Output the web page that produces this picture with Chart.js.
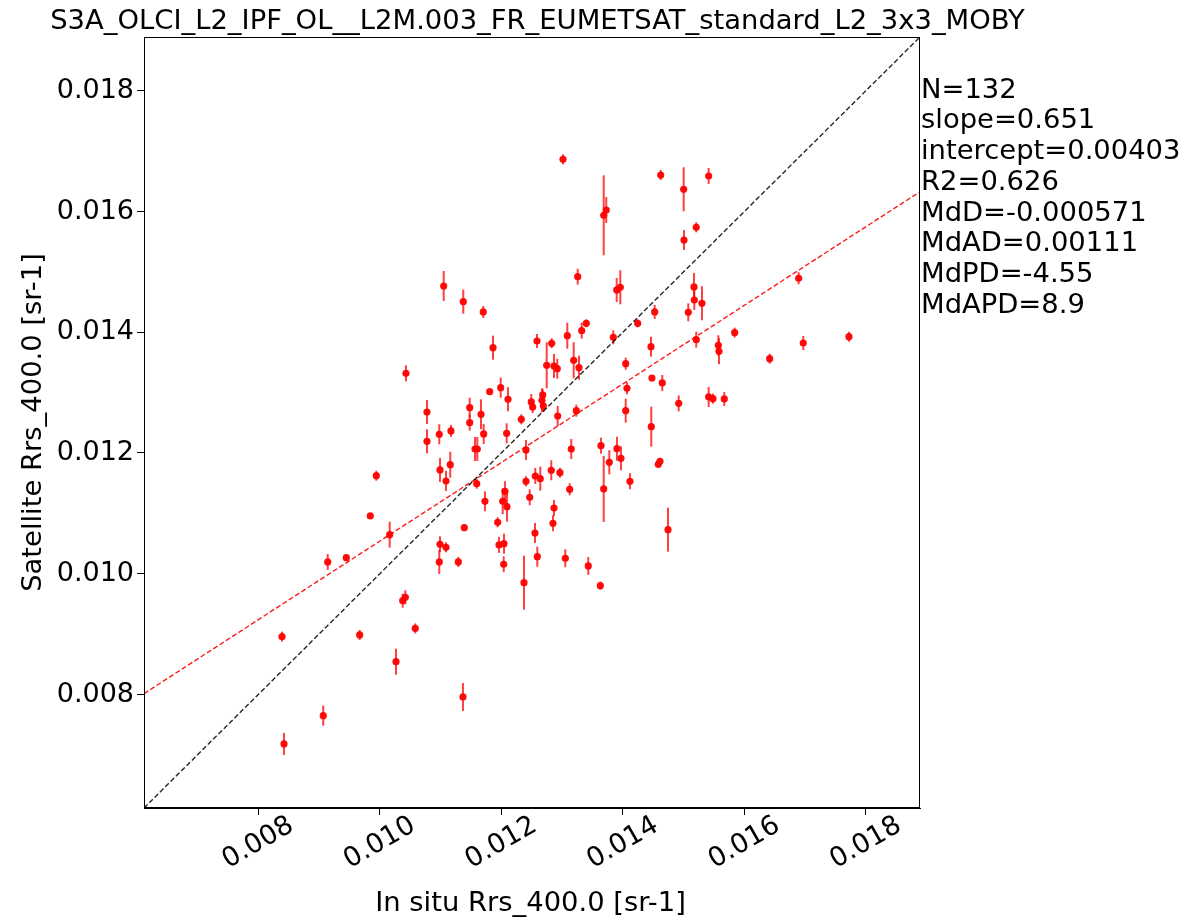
<!DOCTYPE html>
<html>
<head>
<meta charset="utf-8">
<title>S3A OLCI MOBY Rrs_400</title>
<script src="https://cdn.jsdelivr.net/npm/chart.js@4.4.1/dist/chart.umd.min.js"></script>
<style>
  html, body { margin: 0; padding: 0; background: #fff; }
  canvas { display: block; }
</style>
</head>
<body>
<canvas id="myChart" width="1189" height="919"></canvas>
<script>
// data
const title = 'S3A_OLCI_L2_IPF_OL__L2M.003_FR_EUMETSAT_standard_L2_3x3_MOBY';
const xLabel = 'In situ Rrs_400.0 [sr-1]';
const yLabel = 'Satellite Rrs_400.0 [sr-1]';
const axisMin = 0.00612;
const axisMax = 0.01889;
const tickValues = [0.008, 0.010, 0.012, 0.014, 0.016, 0.018];
const slope = 0.651;
const intercept = 0.00403;
const statLines = ['N=132', 'slope=0.651', 'intercept=0.00403', 'R2=0.626',
    'MdD=-0.000571', 'MdAD=0.00111', 'MdPD=-4.55', 'MdAPD=8.9'];

const insituX = [
    0.008424, 0.008391, 0.009070, 0.009143, 0.009449, 0.009669, 0.009844, 0.009943, 0.010163, 0.010267,
    0.010377, 0.010420, 0.010584, 0.011369, 0.010431, 0.011052, 0.011374, 0.011703, 0.011863, 0.012587,
    0.012829, 0.012747, 0.012867, 0.012921, 0.011809, 0.011990, 0.012110, 0.010777, 0.011480, 0.011480,
    0.011666, 0.012493, 0.012516, 0.012669, 0.012681, 0.012691, 0.012329, 0.012928, 0.010777, 0.010979,
    0.011172, 0.011710, 0.012088, 0.011567, 0.011605, 0.012406, 0.010991, 0.011160, 0.011090, 0.011595,
    0.012406, 0.012559, 0.012641, 0.012822, 0.012965, 0.011731, 0.012060, 0.012023, 0.012093, 0.012467,
    0.012867, 0.012850, 0.011391, 0.011940, 0.012554, 0.010991, 0.011090, 0.011962, 0.012044, 0.010979,
    0.011292, 0.012039, 0.012592, 0.012373, 0.013015, 0.013685, 0.013727, 0.014623, 0.015001, 0.015412,
    0.015208, 0.015006, 0.013257, 0.013899, 0.013958, 0.014524, 0.014244, 0.013398, 0.015171, 0.015176,
    0.015302, 0.015077, 0.013323, 0.013086, 0.013843, 0.013191, 0.013278, 0.014463, 0.014047, 0.015208,
    0.015571, 0.015582, 0.014479, 0.014649, 0.014068, 0.014919, 0.015412, 0.015483, 0.013234, 0.014047,
    0.014468, 0.013151, 0.013640, 0.013903, 0.013777, 0.013969, 0.014583, 0.014611, 0.013125, 0.013685,
    0.014117, 0.014743, 0.013053, 0.013431, 0.013629, 0.016893, 0.015840, 0.016416, 0.016969, 0.017721,
    0.015669
];
const satelliteY = [
    0.007181, 0.008958, 0.007649, 0.010195, 0.010266, 0.008986, 0.010957, 0.011624, 0.010647, 0.008544,
    0.009554, 0.009610, 0.009094, 0.007959, 0.013320, 0.014766, 0.014506, 0.014336, 0.013744, 0.013855,
    0.013817, 0.013453, 0.013441, 0.013396, 0.013015, 0.013082, 0.012890, 0.012679, 0.012750, 0.012502,
    0.012641, 0.012845, 0.012762, 0.012873, 0.012961, 0.012779, 0.012558, 0.012613, 0.012194, 0.012310,
    0.012365, 0.012315, 0.012326, 0.012066, 0.012066, 0.012050, 0.011719, 0.011806, 0.011536, 0.011492,
    0.011532, 0.011619, 0.011575, 0.011714, 0.011674, 0.011200, 0.011366, 0.011200, 0.011111, 0.011266,
    0.011089, 0.010836, 0.010763, 0.010852, 0.010675, 0.010488, 0.010438, 0.010477, 0.010498, 0.010195,
    0.010195, 0.010157, 0.010283, 0.009852, 0.016864, 0.015937, 0.016025, 0.016604, 0.016368, 0.016588,
    0.015738, 0.015528, 0.014920, 0.014700, 0.014745, 0.014336, 0.014148, 0.014148, 0.014750, 0.014534,
    0.014480, 0.014330, 0.014026, 0.013943, 0.013916, 0.013536, 0.013413, 0.013761, 0.013479, 0.013877,
    0.013784, 0.013685, 0.013242, 0.013160, 0.013072, 0.012823, 0.012928, 0.012900, 0.012701, 0.012701,
    0.012436, 0.012066, 0.012121, 0.012071, 0.011846, 0.011912, 0.011813, 0.011863, 0.011399, 0.011404,
    0.011532, 0.010730, 0.010256, 0.010129, 0.009803, 0.014894, 0.013993, 0.013562, 0.013822, 0.013926,
    0.012895
];
const satelliteErr = [
    0.000182, 0.000083, 0.000166, 0.000132, 0.000050, 0.000083, 0.000050, 0.000083, 0.000215, 0.000215,
    0.000116, 0.000116, 0.000083, 0.000232, 0.000132, 0.000248, 0.000199, 0.000100, 0.000199, 0.000116,
    0.000083, 0.000381, 0.000199, 0.000166, 0.000033, 0.000166, 0.000199, 0.000199, 0.000166, 0.000132,
    0.000248, 0.000132, 0.000100, 0.000199, 0.000100, 0.000100, 0.000083, 0.000166, 0.000199, 0.000166,
    0.000100, 0.000166, 0.000166, 0.000199, 0.000199, 0.000166, 0.000199, 0.000215, 0.000166, 0.000083,
    0.000083, 0.000132, 0.000199, 0.000166, 0.000083, 0.000166, 0.000166, 0.000215, 0.000248, 0.000132,
    0.000132, 0.000132, 0.000050, 0.000083, 0.000166, 0.000132, 0.000083, 0.000132, 0.000166, 0.000199,
    0.000083, 0.000132, 0.000166, 0.000447, 0.000083, 0.000662, 0.000215, 0.000083, 0.000364, 0.000132,
    0.000083, 0.000166, 0.000132, 0.000199, 0.000282, 0.000116, 0.000066, 0.000066, 0.000232, 0.000166,
    0.000282, 0.000149, 0.000132, 0.000215, 0.000116, 0.000298, 0.000199, 0.000166, 0.000100, 0.000132,
    0.000166, 0.000215, 0.000050, 0.000132, 0.000100, 0.000132, 0.000166, 0.000083, 0.000100, 0.000199,
    0.000331, 0.000166, 0.000132, 0.000199, 0.000199, 0.000199, 0.000050, 0.000050, 0.000100, 0.000547,
    0.000132, 0.000364, 0.000149, 0.000149, 0.000066, 0.000100, 0.000083, 0.000083, 0.000116, 0.000083,
    0.000116
];

const FONT = 'DejaVu Sans';
const FONT_SIZE = 27.4;   // title, axis titles, stats
const TICK_SIZE = 27;     // tick labels

const points = insituX.map((x, i) => ({ x: x, y: satelliteY[i], err: satelliteErr[i] }));

// vertical error bars, drawn under the dots
const errorBars = {
    id: 'errorBars',
    beforeDatasetsDraw(chart) {
        const { ctx, chartArea, scales: { x, y } } = chart;
        ctx.save();
        ctx.beginPath();
        ctx.rect(chartArea.left, chartArea.top, chartArea.right - chartArea.left, chartArea.bottom - chartArea.top);
        ctx.clip();
        ctx.strokeStyle = 'rgba(255, 0, 0, 0.75)';
        ctx.lineWidth = 2;
        points.forEach(p => {
            const px = x.getPixelForValue(p.x);
            ctx.beginPath();
            ctx.moveTo(px, y.getPixelForValue(p.y - p.err));
            ctx.lineTo(px, y.getPixelForValue(p.y + p.err));
            ctx.stroke();
        });
        ctx.restore();
    }
};

// frame, title, axis titles, rotated x tick labels, stats text
const decorations = {
    id: 'decorations',
    afterDraw(chart) {
        const { ctx, chartArea, scales: { x } } = chart;
        ctx.save();
        ctx.strokeStyle = '#000';
        ctx.lineWidth = 1;
        ctx.strokeRect(chartArea.left + 0.5, chartArea.top + 0.5,
            chartArea.right - chartArea.left - 1, chartArea.bottom - chartArea.top - 1);

        ctx.fillStyle = '#000';
        ctx.font = FONT_SIZE + 'px "' + FONT + '"';

        // title
        ctx.textAlign = 'center';
        ctx.textBaseline = 'alphabetic';
        ctx.fillText(title, 537.5, 29);

        // x axis title
        ctx.fillText(xLabel, 530.5, 911);

        // y axis title
        ctx.save();
        ctx.translate(41, (chartArea.top + chartArea.bottom) / 2);
        ctx.rotate(-Math.PI / 2);
        ctx.fillText(yLabel, 0, 0);
        ctx.restore();

        // stats
        ctx.textAlign = 'left';
        statLines.forEach((s, i) => {
            ctx.fillText(s, chartArea.right + 1, 97.5 + i * 30.75);
        });

        // x tick labels, rotated 30 degrees and centred under the tick
        ctx.font = TICK_SIZE + 'px "' + FONT + '"';
        ctx.textAlign = 'center';
        ctx.textBaseline = 'middle';
        tickValues.forEach(v => {
            ctx.save();
            ctx.translate(x.getPixelForValue(v), chartArea.bottom + 35);
            ctx.rotate(-Math.PI / 6);
            ctx.fillText(v.toFixed(3), 0, 0);
            ctx.restore();
        });
        ctx.restore();
    }
};

const data = {
    datasets: [
        {
            label: 'match-ups',
            data: points,
            pointBackgroundColor: 'rgba(255, 0, 0, 0.95)',
            pointBorderWidth: 0,
            pointRadius: 3.6,
            order: 3,
        },
        {
            label: '1:1',
            data: [{ x: axisMin, y: axisMin }, { x: axisMax, y: axisMax }],
            showLine: true,
            pointRadius: 0,
            borderColor: 'rgba(0, 0, 0, 0.85)',
            borderWidth: 1.4,
            borderDash: [5, 2.5],
            order: 1,
        },
        {
            label: 'fit',
            data: [
                { x: axisMin, y: slope * axisMin + intercept },
                { x: axisMax, y: slope * axisMax + intercept },
            ],
            showLine: true,
            pointRadius: 0,
            borderColor: 'rgba(255, 0, 0, 0.9)',
            borderWidth: 1.4,
            borderDash: [5, 2.5],
            order: 2,
        },
    ]
};

const config = {
    type: 'scatter',
    data,
    options: {
        responsive: false,
        animation: false,
        devicePixelRatio: 1,
        layout: { padding: { left: 0, right: 269, top: 37, bottom: 0 } },
        plugins: {
            legend: { display: false },
            tooltip: { enabled: false },
        },
        scales: {
            x: {
                type: 'linear',
                min: axisMin,
                max: axisMax,
                afterFit: s => { s.height = 111; },
                afterBuildTicks: s => { s.ticks = tickValues.map(v => ({ value: v })); },
                ticks: { display: false },
                grid: { drawOnChartArea: false, drawTicks: true, tickLength: 7, color: '#000' },
                border: { display: true, color: '#000', width: 1 },
            },
            y: {
                type: 'linear',
                min: axisMin,
                max: axisMax,
                afterFit: s => { s.width = 144; },
                afterBuildTicks: s => { s.ticks = tickValues.map(v => ({ value: v })); },
                ticks: {
                    color: '#000',
                    padding: 3,
                    font: { family: FONT, size: TICK_SIZE },
                    callback: v => v.toFixed(3),
                },
                grid: { drawOnChartArea: false, drawTicks: true, tickLength: 7, color: '#000' },
                border: { display: true, color: '#000', width: 1 },
            },
        }
    },
    plugins: [errorBars, decorations]
};

const ctx = document.getElementById('myChart');
const myChart = new Chart(ctx, config);
</script>
</body>
</html>
